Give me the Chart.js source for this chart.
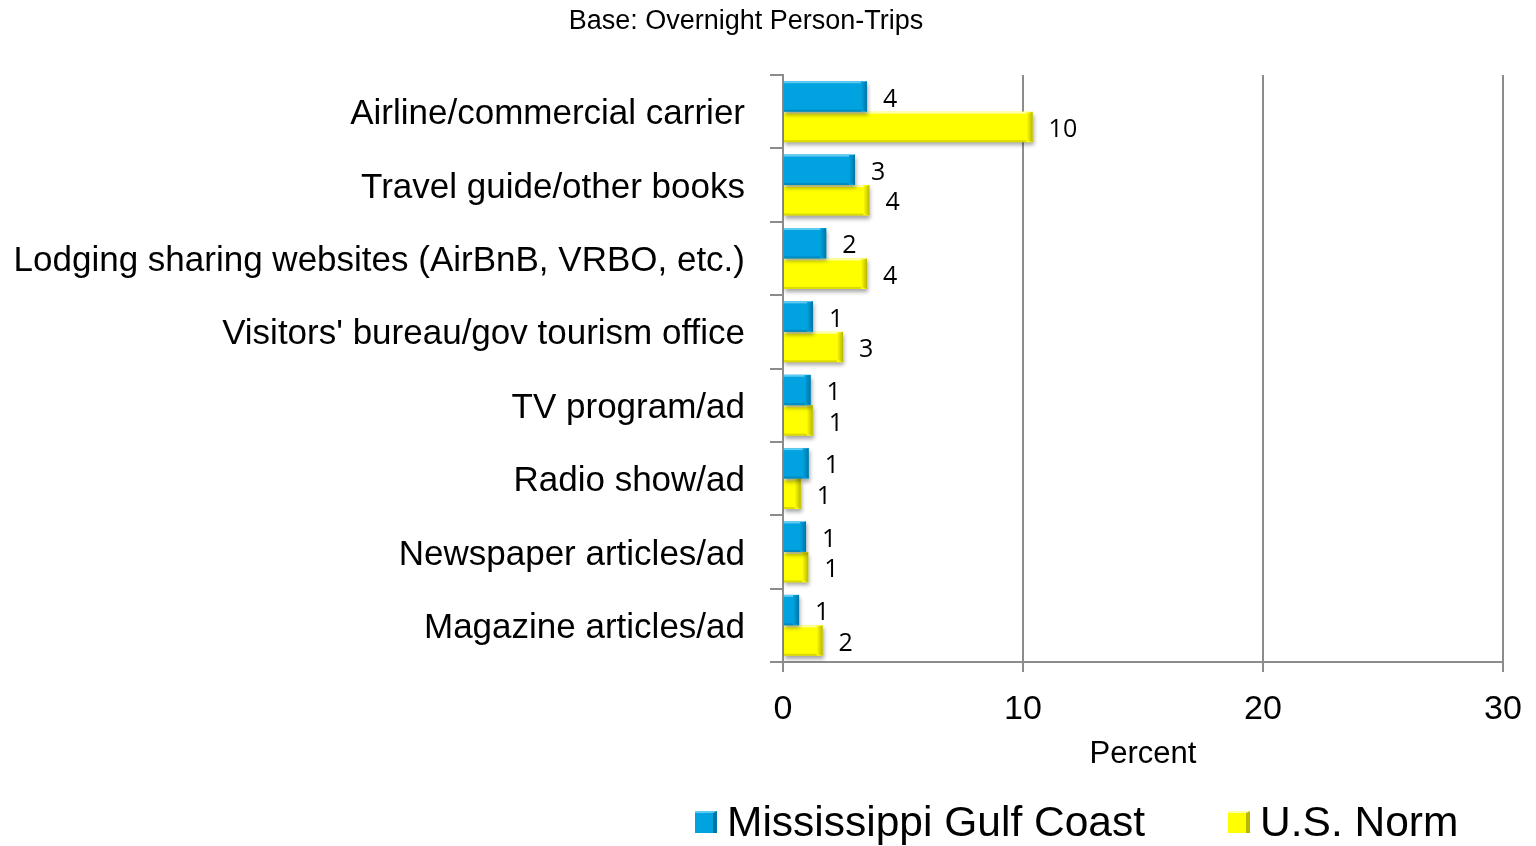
<!DOCTYPE html>
<html>
<head>
<meta charset="utf-8">
<script src="https://cdn.jsdelivr.net/npm/chart.js@4.4.0/dist/chart.umd.min.js"></script>
<style>
  body { margin: 0; background: #fff; }
  #wrap { position: relative; width: 1536px; height: 846px; overflow: hidden; }
  #base {
    position: absolute; top: 5px; left: 746px; transform: translateX(-50%);
    font: 27px "Liberation Sans", Arial, sans-serif; color: #000; white-space: nowrap;
  }
  #legend {
    position: absolute; top: 798px; left: 695px; display: flex; align-items: center;
    font: 42.5px "Liberation Sans", Arial, sans-serif; color: #000; white-space: nowrap;
  }
  .item { display: flex; align-items: center; }
  .swatch { width: 22px; height: 22px; margin-right: 10px; box-sizing: border-box; }
</style>
</head>
<body>
<div id="wrap">
  <canvas id="myChart" width="1536" height="846"></canvas>
  <div id="base">Base: Overnight Person-Trips</div>
  <div id="legend"></div>
</div>
<script>
const categories = [
  'Airline/commercial carrier',
  'Travel guide/other books',
  'Lodging sharing websites (AirBnB, VRBO, etc.)',
  "Visitors' bureau/gov tourism office",
  'TV program/ad',
  'Radio show/ad',
  'Newspaper articles/ad',
  'Magazine articles/ad'
];
const gulfCoast = [3.5, 3.0, 1.8, 1.25, 1.15, 1.07, 0.96, 0.67];
const usNorm = [10.4, 3.6, 3.5, 2.5, 1.24, 0.74, 1.05, 1.65];
const xTicks = [0, 10, 20, 30];

const BLUE = '#00a2e0';
const YELLOW = '#ffff00';
const GRID = '#8c8c8c';

// lighter top edge, darker right edge, like the office-style bevelled bars
const bevel = {
  [BLUE]: { light: '#5fcaf2', dark: '#0074a4' },
  [YELLOW]: { light: '#ffffa8', dark: '#b8b800' }
};

const barStyle = {
  id: 'barStyle',
  beforeDatasetDraw(chart) {
    const ctx = chart.ctx;
    ctx.save();
    ctx.shadowColor = 'rgba(0,0,0,0.35)';
    ctx.shadowBlur = 4;
    ctx.shadowOffsetX = 1;
    ctx.shadowOffsetY = 3;
  },
  afterDatasetDraw(chart, args) {
    const ctx = chart.ctx;
    ctx.restore();
    const ds = chart.data.datasets[args.index];
    const c = bevel[ds.backgroundColor];
    args.meta.data.forEach(function (bar) {
      const p = bar.getProps(['x', 'y', 'base', 'height'], true);
      const left = p.base, right = p.x;
      const top = p.y - p.height / 2, bottom = p.y + p.height / 2;
      const w = Math.min(6, (right - left) / 2);
      ctx.save();
      ctx.fillStyle = c.light;
      ctx.fillRect(left, top, right - left - w, 2);
      const g = ctx.createLinearGradient(right - w, 0, right, 0);
      g.addColorStop(0, ds.backgroundColor);
      g.addColorStop(1, c.dark);
      ctx.fillStyle = g;
      ctx.beginPath();
      ctx.moveTo(right - w, top + 2);
      ctx.lineTo(right, top);
      ctx.lineTo(right, bottom);
      ctx.lineTo(right - w, bottom - 2);
      ctx.closePath();
      ctx.fill();
      ctx.fillStyle = c.dark;
      ctx.globalAlpha = 0.5;
      ctx.fillRect(left, bottom - 2, right - left - w, 2);
      ctx.restore();
    });
  }
};

const valueLabels = {
  id: 'valueLabels',
  afterDatasetsDraw(chart) {
    const ctx = chart.ctx;
    ctx.save();
    ctx.font = '25px "Open Sans", sans-serif';
    ctx.fillStyle = '#000';
    ctx.textAlign = 'left';
    ctx.textBaseline = 'middle';
    chart.data.datasets.forEach(function (ds, i) {
      chart.getDatasetMeta(i).data.forEach(function (bar, j) {
        ctx.fillText(String(Math.round(ds.data[j])), bar.x + 16, bar.y + 3);
      });
    });
    ctx.restore();
  }
};

const ctx = document.getElementById('myChart');
const chart = new Chart(ctx, {
  type: 'bar',
  data: {
    labels: categories,
    datasets: [
      { label: 'Mississippi Gulf Coast', data: gulfCoast, backgroundColor: BLUE },
      { label: 'U.S. Norm', data: usNorm, backgroundColor: YELLOW }
    ]
  },
  plugins: [barStyle, valueLabels],
  options: {
    indexAxis: 'y',
    responsive: false,
    animation: false,
    layout: { padding: { top: 75, right: 33, bottom: 71, left: 0 } },
    datasets: {
      bar: { categoryPercentage: 0.83, barPercentage: 1.0 }
    },
    plugins: {
      legend: { display: false },
      tooltip: { enabled: false }
    },
    scales: {
      x: {
        min: 0,
        max: 30,
        afterBuildTicks(scale) {
          scale.ticks = xTicks.map(v => ({ value: v }));
        },
        afterFit(scale) { scale.height = 113; },
        grid: { color: GRID, lineWidth: 2, tickLength: 10 },
        border: { color: GRID, width: 2 },
        ticks: {
          padding: 14,
          color: '#000',
          font: { family: '"Liberation Sans", Arial, sans-serif', size: 34, lineHeight: 1.38 }
        },
        title: {
          display: true,
          text: 'Percent',
          color: '#000',
          padding: { top: 0, bottom: 2 },
          font: { family: '"Liberation Sans", Arial, sans-serif', size: 31 }
        }
      },
      y: {
        afterFit(scale) { scale.width = 783; },
        grid: { drawOnChartArea: false, color: GRID, lineWidth: 2, tickLength: 13 },
        border: { color: GRID, width: 2 },
        ticks: {
          padding: 25,
          labelOffset: 3,
          color: '#000',
          font: { family: '"Liberation Sans", Arial, sans-serif', size: 35 }
        }
      }
    }
  }
});

// legend below the plot
const legend = document.getElementById('legend');
chart.data.datasets.forEach(function (ds, i) {
  const item = document.createElement('div');
  item.className = 'item';
  if (i > 0) item.style.marginLeft = '83px';
  const sw = document.createElement('div');
  sw.className = 'swatch';
  sw.style.background = ds.backgroundColor;
  sw.style.borderRight = '4px solid ' + bevel[ds.backgroundColor].dark;
  sw.style.borderTop = '2px solid ' + bevel[ds.backgroundColor].light;
  item.appendChild(sw);
  const txt = document.createElement('span');
  txt.textContent = ds.label;
  item.appendChild(txt);
  legend.appendChild(item);
});
</script>
</body>
</html>
